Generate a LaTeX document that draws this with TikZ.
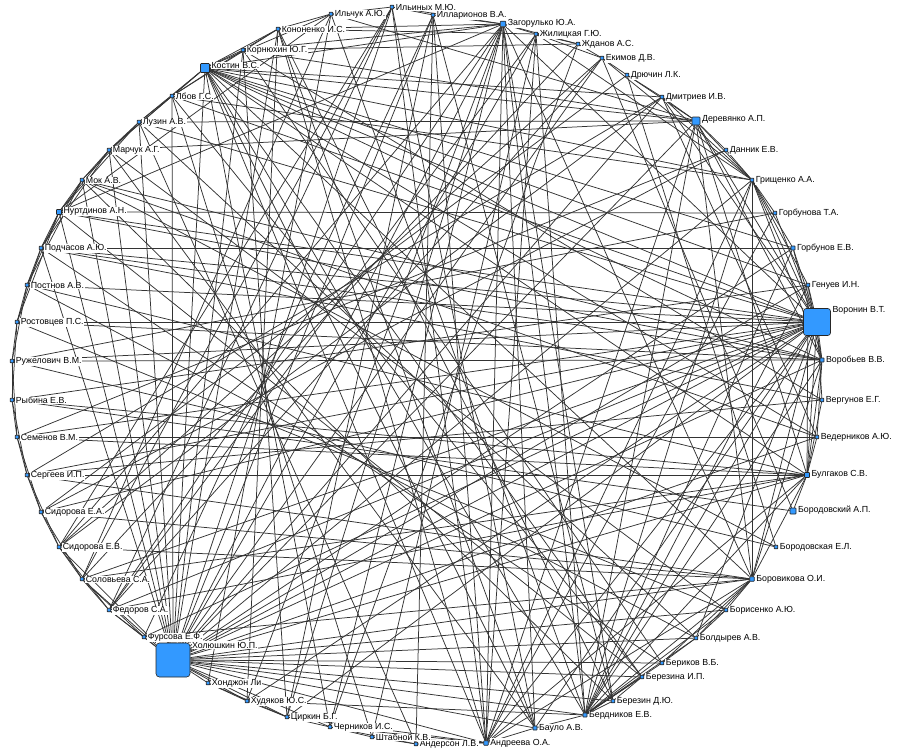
\documentclass[tikz,border=0pt]{standalone}
\usepackage{fontspec}
\setmainfont{Liberation Sans}
\usepackage{tikz}
\usetikzlibrary{backgrounds}
\definecolor{vblue}{HTML}{3399FF}

\begin{document}
\begin{tikzpicture}[
  x=1pt, y=-1pt,
  vert/.style={draw=black!85, fill=vblue, inner sep=0pt, line width=0.6pt},
  lab/.style={fill=white, inner sep=0.6pt, font=\fontsize{8.8}{9.5}\selectfont},
  edge/.style={draw=black!80, line width=0.75pt},
]
\useasboundingbox (0,0) rectangle (908,752);

% authors on the circle (name / x / y / square size / label)
\foreach \n/\px/\py/\sz/\lbl in {
  ilchuk/331/14/3.5/{Ильчук А.Ю.},
  ilinykh/392/7/3.5/{Ильиных М.Ю.},
  illar/433/15/3.5/{Илларионов В.А.},
  zagor/503/24/5.5/{Загорулько Ю.А.},
  zhilic/536/34/3.5/{Жилицкая Г.Ю.},
  zhdanov/578/44/3.5/{Жданов А.С.},
  ekimov/602/58/3.5/{Екимов Д.В.},
  dryuchin/627/75/3.5/{Дрючин Л.К.},
  dmitr/662/97/3.5/{Дмитриев И.В.},
  derev/696/121/8/{Деревянко А.П.},
  dannik/726/150/3.5/{Данник Е.В.},
  grishch/752/180/3.5/{Грищенко А.А.},
  gorbova/775/213/3.5/{Горбунова Т.А.},
  gorbov/793/248/4/{Горбунов Е.В.},
  genuev/808/285/3.5/{Генуев И.Н.},
  voronin/817/322/27/{Воронин В.Т.},
  vorobyev/822/360/4/{Воробьев В.В.},
  vergunov/822/400/3.5/{Вергунов Е.Г.},
  vederni/817/437/3.5/{Ведерников А.Ю.},
  bulgakov/807/475/5/{Булгаков С.В.},
  borodovsky/793/511/6/{Бородовский А.П.},
  borodovska/776/547/3.5/{Бородовская Е.Л.},
  borovik/752/579/4.5/{Боровикова О.И.},
  borisenko/726/610/3.5/{Борисенко А.Ю.},
  boldyrev/696/638/3.5/{Болдырев А.В.},
  berikov/662/663/3.5/{Бериков В.Б.},
  berezina/642/677/3.5/{Березина И.П.},
  berezin/613/701/3.5/{Березин Д.Ю.},
  berdnikov/585/715/4/{Бердников Е.В.},
  baulo/535/728/4/{Бауло А.В.},
  andreeva/486/743/4.5/{Андреева О.А.},
  anderson/416/744/3.5/{Андерсон Л.В.},
  shtabnoy/372/737/3.5/{Штабной К.В.},
  chernikov/330/727/3.5/{Черников И.С.},
  tsirkin/287/717/3.5/{Циркин Б.Г.},
  khudyakov/247/701/3.5/{Худяков Ю.С.},
  khondzhon/208/683/3.5/{Хонджон Ли},
  fursova/144/637/3.5/{Фурсова Е.Ф.},
  kholyush/173/660/34/{Холюшкин Ю.П.},
  fedorov/109/610/3.5/{Федоров С.А.},
  solovyeva/82/579/3.5/{Соловьева С.А.},
  sidEV/59/547/3.5/{Сидорова Е.В.},
  sidEA/41/512/3.5/{Сидорова Е.А.},
  sergeev/27/475/3.5/{Сергеев И.П.},
  semenov/17/437/3.5/{Семенов В.М.},
  rybina/12/400/3.5/{Рыбина Е.В.},
  ruzhel/12/361/3.5/{Ружелович В.М.},
  rostov/17/322/3.5/{Ростовцев П.С.},
  postnov/27/285/3.5/{Постнов А.В.},
  podchas/41/248/3.5/{Подчасов А.Ю.},
  nurtdin/59/212/5/{Нуртдинов А.Н.},
  mok/82/180/3.5/{Мок А.В.},
  marchuk/109/150/3.5/{Марчук А.Г.},
  luzin/139/122/3.5/{Лузин А.В.},
  lbov/172/96/3.5/{Лбов Г.С.},
  kostin/205/68/9/{Костин В.С.},
  kornyukh/243/50/3.5/{Корнюхин Ю.Г.},
  kononenko/278/29/3.5/{Кононенко И.С.}%
}{
  \node[vert, minimum size=\sz, rounded corners=\sz*0.1] (\n) at (\px,\py) {};
  \node[lab, anchor=west] (\n-lab) at ([xshift=1pt, yshift=-2.5pt]\n.north east) {\lbl};
}

% co-authorship links
\begin{pgfonlayer}{background}
\foreach \a/\b in {
  kholyush/fursova, kholyush/fedorov, kholyush/solovyeva, kholyush/sidEV, kholyush/khondzhon,
  kholyush/khudyakov, kholyush/tsirkin, kholyush/chernikov, kholyush/andreeva, kholyush/baulo,
  kholyush/berdnikov, kholyush/berezin, kholyush/berezina, kholyush/berikov, kholyush/boldyrev,
  kholyush/borisenko, kholyush/borovik, kholyush/bulgakov, kholyush/vederni, kholyush/vorobyev,
  kholyush/voronin, kholyush/genuev, kholyush/gorbov, kholyush/grishch, kholyush/derev,
  kholyush/zagor, kholyush/zhilic, kholyush/ilinykh, kholyush/illar, kholyush/kostin,
  kholyush/kornyukh, kholyush/lbov, kholyush/luzin, kholyush/marchuk, kholyush/nurtdin,
  kholyush/mok, kholyush/podchas, kholyush/dmitr, kholyush/ekimov, kholyush/kononenko,
  voronin/rostov, voronin/ruzhel, voronin/podchas, voronin/postnov, voronin/semenov,
  voronin/nurtdin, voronin/kostin, voronin/fursova, voronin/fedorov, voronin/grishch,
  voronin/gorbov, voronin/gorbova, voronin/genuev, voronin/vorobyev, voronin/vergunov,
  voronin/bulgakov, voronin/borovik, voronin/berdnikov, voronin/andreeva, voronin/baulo,
  voronin/zagor, voronin/derev, voronin/dmitr, voronin/lbov, voronin/luzin,
  voronin/sidEA, voronin/solovyeva, voronin/khudyakov, voronin/tsirkin, voronin/boldyrev,
  voronin/sergeev,
  kostin/lbov, kostin/luzin, kostin/marchuk, kostin/kornyukh, kostin/kononenko,
  kostin/ilchuk, kostin/derev, kostin/grishch, kostin/vorobyev, kostin/bulgakov,
  kostin/borovik, kostin/berdnikov, kostin/andreeva, kostin/gorbov, kostin/zagor,
  kostin/genuev, kostin/baulo, kostin/dmitr, kostin/vederni, kostin/berezina,
  zagor/ilinykh, zagor/illar, zagor/zhilic, zagor/zhdanov, zagor/kononenko,
  zagor/kornyukh, zagor/andreeva, zagor/baulo, zagor/berdnikov, zagor/berezin,
  zagor/khudyakov, zagor/tsirkin, zagor/chernikov, zagor/sidEV, zagor/fedorov, zagor/borovik,
  derev/dmitr, derev/dryuchin, derev/grishch, derev/dannik, derev/kornyukh,
  derev/vorobyev, derev/bulgakov, derev/berdnikov, derev/andreeva, derev/luzin,
  derev/marchuk, derev/ilchuk,
  andreeva/zhilic, andreeva/ilinykh, andreeva/illar, andreeva/shtabnoy, andreeva/anderson,
  andreeva/chernikov, andreeva/grishch, andreeva/borovik, andreeva/bulgakov, andreeva/gorbova,
  andreeva/tsirkin, andreeva/baulo, andreeva/kononenko,
  berdnikov/berezin, berdnikov/berezina, berdnikov/berikov, berdnikov/boldyrev, berdnikov/borisenko,
  berdnikov/borovik, berdnikov/bulgakov, berdnikov/vorobyev, berdnikov/genuev, berdnikov/grishch,
  berdnikov/gorbov, berdnikov/zhilic, berdnikov/khudyakov, berdnikov/baulo,
  borovik/borisenko, borovik/boldyrev, borovik/bulgakov, borovik/vorobyev, borovik/sidEV,
  borovik/sidEA, borovik/sergeev, borovik/fursova, borovik/derev, borovik/grishch, borovik/berikov,
  bulgakov/vederni, bulgakov/vergunov, bulgakov/borodovsky, bulgakov/rybina, bulgakov/semenov,
  bulgakov/sergeev, bulgakov/solovyeva, bulgakov/fedorov, bulgakov/vorobyev, bulgakov/genuev,
  vorobyev/genuev, vorobyev/gorbov, vorobyev/grishch, vorobyev/vederni, vorobyev/rostov,
  vorobyev/ruzhel, vorobyev/nurtdin, vorobyev/mok, vorobyev/podchas,
  grishch/gorbova, grishch/gorbov, grishch/dannik, grishch/dmitr, grishch/zhilic,
  grishch/ekimov, grishch/lbov, grishch/genuev,
  nurtdin/mok, nurtdin/marchuk, nurtdin/podchas, nurtdin/postnov, nurtdin/rostov,
  nurtdin/gorbova, nurtdin/zagor, nurtdin/ilchuk, nurtdin/luzin,
  marchuk/mok, marchuk/luzin, luzin/lbov, mok/podchas, podchas/postnov,
  podchas/rostov, postnov/rostov, postnov/ruzhel, rostov/ruzhel, rostov/rybina,
  ruzhel/rybina, ruzhel/semenov, rybina/semenov, rybina/sergeev, semenov/sergeev,
  semenov/sidEA, sergeev/sidEA, sergeev/sidEV, sidEA/sidEV, sidEA/solovyeva,
  sidEV/solovyeva, sidEV/fedorov, solovyeva/fedorov, solovyeva/fursova, fedorov/fursova,
  marchuk/podchas, luzin/mok, lbov/marchuk, mok/postnov,
  ilchuk/kononenko, ilchuk/ilinykh, kononenko/kornyukh, kornyukh/lbov, kononenko/lbov,
  zhilic/zhdanov, zhilic/ekimov, zhdanov/ekimov, ekimov/dryuchin, dryuchin/dmitr,
  ilinykh/illar, zhdanov/kornyukh, zhilic/kononenko,
  khondzhon/khudyakov, khudyakov/tsirkin, tsirkin/chernikov, chernikov/shtabnoy, shtabnoy/anderson,
  berezin/berezina, berikov/boldyrev, boldyrev/borisenko, khondzhon/tsirkin, chernikov/anderson,
  ilinykh/sidEV, ilinykh/fedorov, ilinykh/solovyeva, ilchuk/solovyeva, illar/berezin,
  illar/tsirkin, kononenko/baulo, kornyukh/berikov, lbov/berezina, luzin/boldyrev,
  marchuk/borisenko, mok/borodovska, mok/vederni, podchas/vergunov, podchas/gorbov,
  postnov/bulgakov, ruzhel/borodovska, rybina/borodovsky, semenov/dannik, sergeev/dmitr,
  sidEA/dryuchin, sidEV/ekimov, solovyeva/zhdanov, fedorov/zhilic, fursova/illar,
  khondzhon/ilchuk, khudyakov/kononenko, tsirkin/kornyukh, chernikov/kostin, shtabnoy/lbov,
  anderson/luzin, baulo/marchuk, berezin/mok, berezina/nurtdin, berikov/podchas,
  boldyrev/postnov, borisenko/rostov, vederni/semenov, vergunov/sergeev, genuev/rybina,
  gorbova/ruzhel, dannik/sidEA, dmitr/sidEV, ekimov/fedorov, zhdanov/chernikov,
  zhilic/shtabnoy, illar/anderson, ilinykh/baulo, ilchuk/berdnikov, kononenko/berezin,
  borodovsky/ekimov, borodovska/dryuchin, vederni/dmitr, vergunov/kornyukh%
}
  \draw[edge] (\a) -- (\b);
\end{pgfonlayer}

\end{tikzpicture}
\end{document}
